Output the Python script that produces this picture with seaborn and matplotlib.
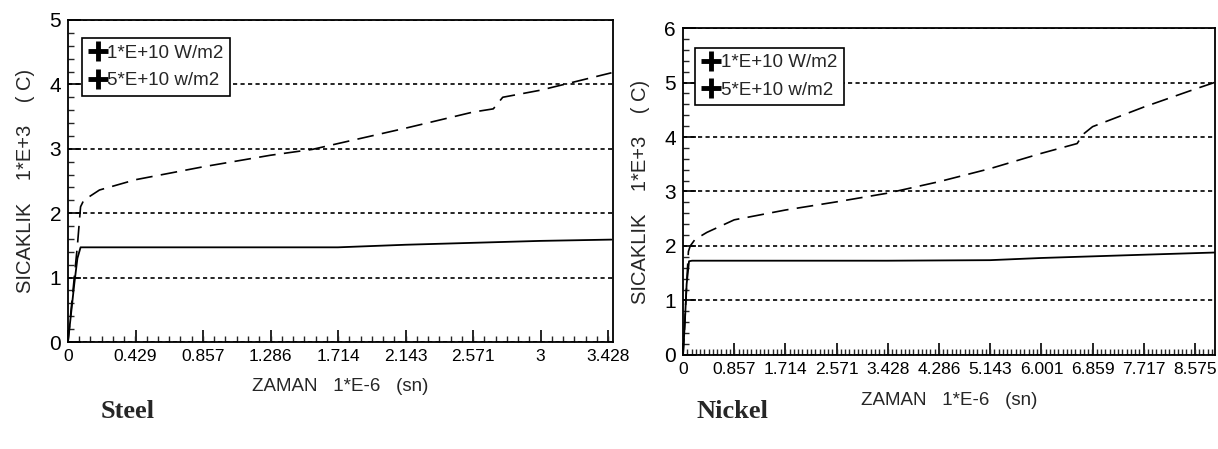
import numpy as np
import pandas as pd
import matplotlib
matplotlib.use("Agg")
import matplotlib.pyplot as plt
import seaborn as sns
from matplotlib.lines import Line2D
from matplotlib.ticker import FixedLocator, MultipleLocator

# steel, 1*E+10 W/m2 (solid)
steel_t1 = [0, 0.02, 0.04, 0.06, 0.08, 0.5, 1.0, 1.714, 2.143, 2.571, 3.0, 3.45]
steel_T1 = [0, 0.45, 0.9, 1.3, 1.47, 1.47, 1.47, 1.47, 1.51, 1.54, 1.57, 1.59]
# steel, 5*E+10 w/m2 (dashed)
steel_t2 = [0, 0.02, 0.04, 0.06, 0.07, 0.08, 0.1, 0.2, 0.429, 0.857, 1.286, 1.55,
            2.143, 2.571, 2.7, 2.76, 3.0, 3.2, 3.45]
steel_T2 = [0, 0.5, 1.0, 1.5, 1.8, 2.1, 2.2, 2.36, 2.52, 2.72, 2.9, 2.99,
            3.32, 3.57, 3.62, 3.8, 3.91, 4.03, 4.18]

# nickel, 1*E+10 W/m2 (solid)
nickel_t1 = [0, 0.03, 0.06, 0.1, 0.15, 1.714, 3.428, 5.143, 6.0, 6.859, 7.717, 8.9]
nickel_T1 = [0, 0.6, 1.3, 1.72, 1.73, 1.73, 1.73, 1.74, 1.78, 1.81, 1.84, 1.88]
# nickel, 5*E+10 w/m2 (dashed)
nickel_t2 = [0, 0.03, 0.06, 0.09, 0.12, 0.2, 0.4, 0.857, 1.714, 2.571, 3.428, 4.286,
             5.143, 6.0, 6.6, 6.7, 6.859, 7.717, 8.575, 8.9]
nickel_T2 = [0, 0.6, 1.3, 1.9, 2.0, 2.12, 2.25, 2.48, 2.66, 2.81, 2.97, 3.18,
             3.42, 3.7, 3.88, 4.05, 4.19, 4.55, 4.88, 5.0]

steel_ticks = [0, 0.429, 0.857, 1.286, 1.714, 2.143, 2.571, 3, 3.428]
steel_labels = ["0", "0.429", "0.857", "1.286", "1.714", "2.143", "2.571", "3", "3.428"]
nickel_ticks = [0, 0.857, 1.714, 2.571, 3.428, 4.286, 5.143, 6.001, 6.859, 7.717, 8.575]
nickel_labels = ["0", "0.857", "1.714", "2.571", "3.428", "4.286", "5.143", "6.001",
                 "6.859", "7.717", "8.575"]
legend_labels = ["1*E+10 W/m2", "5*E+10 w/m2"]

sns.set_style("ticks")
plt.rcParams['font.family'] = ['Liberation Sans', 'DejaVu Sans']

fig = plt.figure(figsize=(12.18, 4.49), dpi=100)
ax1 = fig.add_axes([0.0558, 0.2383, 0.4475, 0.7172])
ax2 = fig.add_axes([0.5608, 0.2094, 0.4368, 0.7282])


def draw(ax, t1, T1, t2, T2, ticks, labels, xmax, ymax, leg_xy, xpad):
    d1 = pd.DataFrame({"t": t1, "T": T1})
    d2 = pd.DataFrame({"t": t2, "T": T2})
    sns.lineplot(data=d1, x="t", y="T", ax=ax, color="black", linewidth=1.3)
    sns.lineplot(data=d2, x="t", y="T", ax=ax, color="black", linewidth=1.2,
                 dashes=False, linestyle=(0, (10, 5)))
    ax.set_xlim(0, xmax)
    ax.set_ylim(0, ymax)
    ax.xaxis.set_major_locator(FixedLocator(ticks))
    ax.set_xticklabels(labels)
    ax.xaxis.set_minor_locator(MultipleLocator(1 / 14))
    ax.yaxis.set_major_locator(MultipleLocator(1))
    ax.yaxis.set_minor_locator(MultipleLocator(0.2))
    ax.tick_params(which="major", direction="in", length=9, width=1.2, colors="black", pad=5)
    ax.tick_params(axis="x", labelsize=12.5)
    ax.tick_params(axis="y", labelsize=15)
    ax.tick_params(which="minor", direction="in", length=4, width=1)
    ax.yaxis.grid(True, which="major", color="black", linestyle=(0, (2.5, 2)), linewidth=1.2)
    for s in ax.spines.values():
        s.set_linewidth(1.3)
        s.set_color("black")
    ax.set_xlabel("ZAMAN   1*E-6   (sn)", fontsize=13.5, labelpad=xpad)
    ax.set_ylabel("SICAKLIK    1*E+3    ( C)", fontsize=14.5, labelpad=10)
    handles = [Line2D([], [], color="black", marker="+", markersize=15, markeredgewidth=3.5,
                      linestyle="none") for _ in legend_labels]
    leg = ax.legend(handles, legend_labels, loc="upper left", fontsize=13.5, frameon=True,
                    fancybox=False, framealpha=1, edgecolor="black", handletextpad=0.0,
                    handlelength=1.0, borderpad=0.35, labelspacing=0.55,
                    bbox_to_anchor=leg_xy, borderaxespad=0)
    leg.get_frame().set_linewidth(1.2)


draw(ax1, steel_t1, steel_T1, steel_t2, steel_T2, steel_ticks, steel_labels, 3.46, 5,
     (0.026, 0.944), 10)
draw(ax2, nickel_t1, nickel_T1, nickel_t2, nickel_T2, nickel_ticks, nickel_labels, 8.91, 6,
     (0.023, 0.94), 11)

fig.text(0.083, 0.068, "Steel", fontsize=19, fontweight="bold", family="Liberation Serif")
fig.text(0.572, 0.068, "Nickel", fontsize=19, fontweight="bold", family="Liberation Serif")

fig.savefig("out.png", dpi=100)
